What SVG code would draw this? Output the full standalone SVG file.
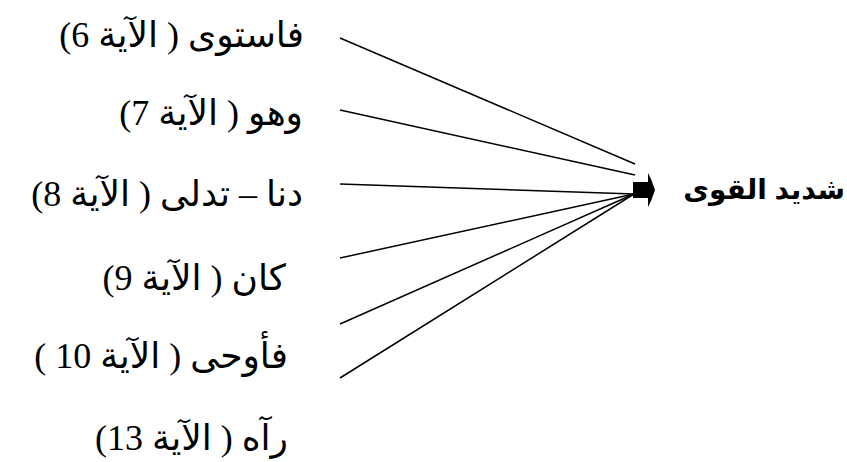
<svg xmlns="http://www.w3.org/2000/svg" width="847" height="462" viewBox="0 0 847 462">
<style>
.lbl{font-family:"Liberation Serif","DejaVu Sans",serif;font-size:36px;fill:#000;}
.ttl{font-family:"Liberation Sans","DejaVu Sans",sans-serif;font-size:28px;font-weight:bold;fill:#000;}
.con line{stroke:#000;stroke-width:1.5;fill:none;}
</style>
<rect width="847" height="462" fill="#fff"/>
<g id="n1"><text class="lbl" x="304" y="47" direction="rtl" text-anchor="start">فاستوى ( الآية 6)</text></g>
<g id="n2"><text class="lbl" x="303" y="125" direction="rtl" text-anchor="start">وهو ( الآية 7)</text></g>
<g id="n3"><text class="lbl" x="303" y="206" direction="rtl" text-anchor="start">دنا – تدلى ( الآية 8)</text></g>
<g id="n4"><text class="lbl" x="286" y="290" direction="rtl" text-anchor="start">كان ( الآية 9)</text></g>
<g id="n5"><text class="lbl" x="288" y="368" direction="rtl" text-anchor="start">فأوحى ( الآية 10 )</text></g>
<g id="n6"><text class="lbl" x="288" y="450" direction="rtl" text-anchor="start">رآه ( الآية 13)</text></g>
<g id="target">
<rect x="633" y="182" width="15" height="16" fill="#000"/>
<polygon points="648,173 651,179 655,190 651,201 648,207" fill="#000"/>
<text class="ttl" x="845" y="199" direction="rtl" text-anchor="start">شديد القوى</text>
</g>
<g class="con" id="connectors">
<line x1="340" y1="38" x2="635" y2="164"/>
<line x1="340" y1="110" x2="635" y2="175"/>
<line x1="340" y1="184" x2="634" y2="194"/>
<line x1="340" y1="258" x2="634" y2="194"/>
<line x1="340" y1="324" x2="634" y2="194"/>
<line x1="340" y1="378" x2="634" y2="194"/>
</g>
</svg>
